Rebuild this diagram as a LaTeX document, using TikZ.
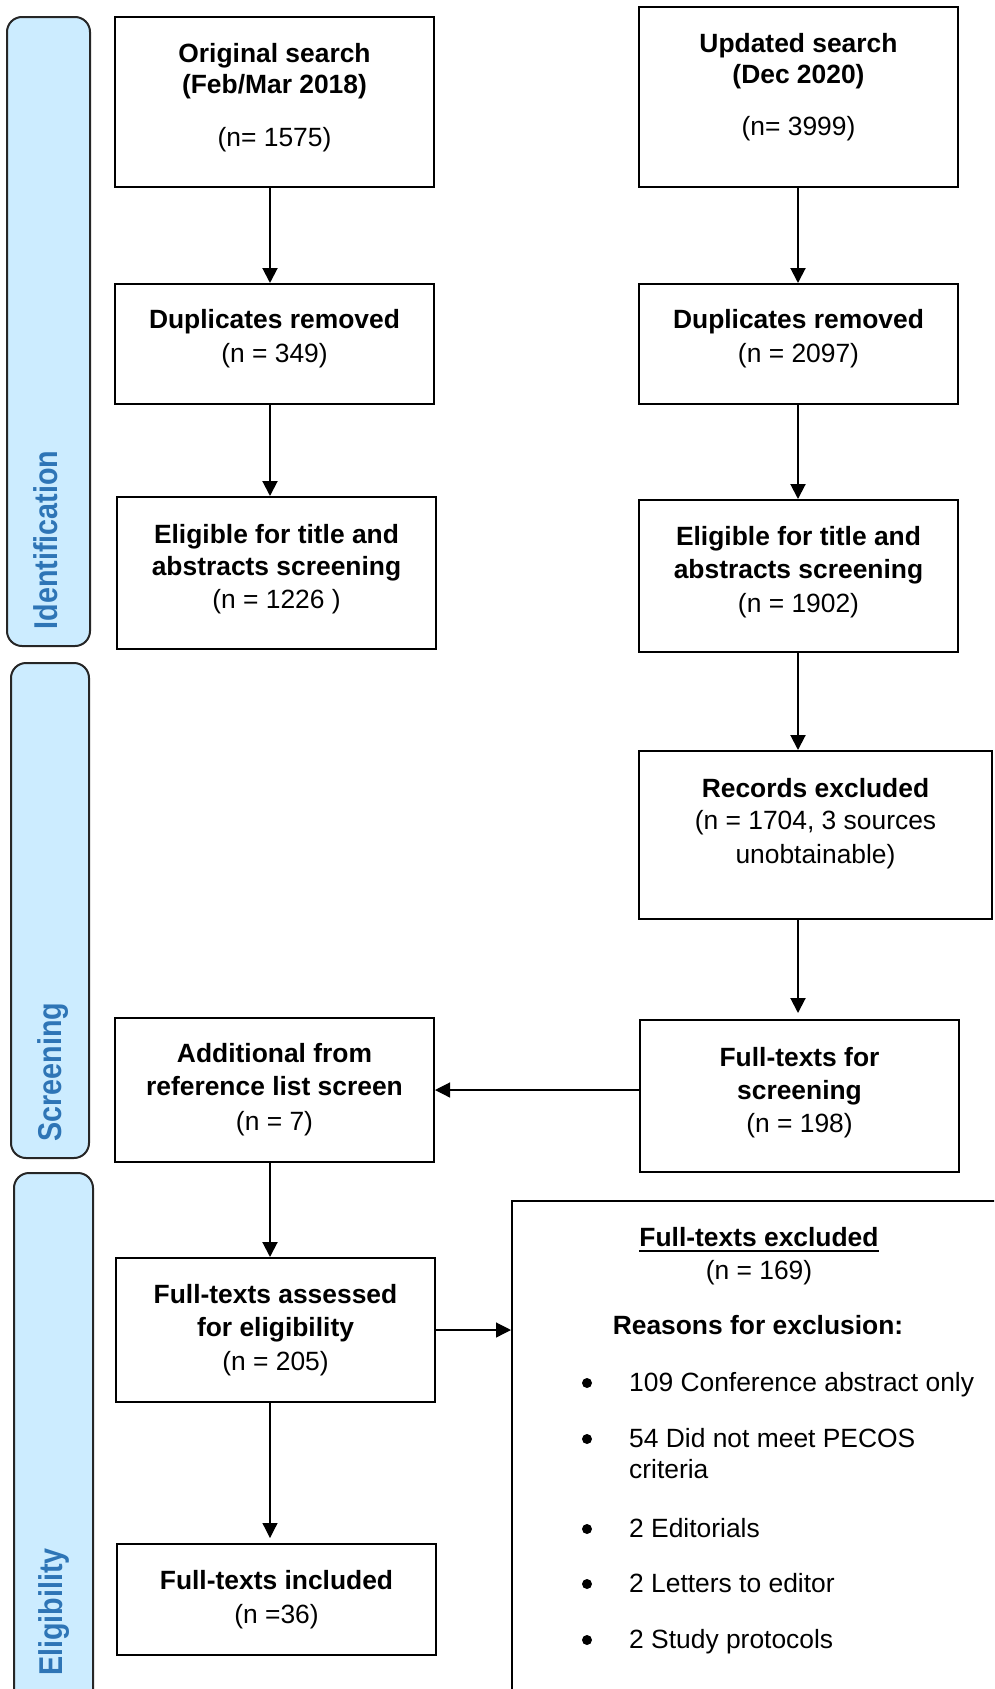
\documentclass[tikz,border=0pt]{standalone}
\usepackage{fontspec}
\setmainfont{Liberation Sans}
\usepackage{graphicx}
\usetikzlibrary{arrows.meta}
\definecolor{barfill}{RGB}{204,236,255}
\definecolor{barblue}{RGB}{46,117,182}
\tikzset{
  box/.style={draw=black, line width=2pt, fill=white, rectangle, inner sep=0pt},
  phasebar/.style={draw=black!85, line width=2pt, fill=barfill, rounded corners=15pt, rectangle, inner sep=0pt},
  txt/.style={inner sep=0pt, anchor=base, font=\fontsize{26.4pt}{33pt}\selectfont},
  btxt/.style={inner sep=0pt, anchor=base, font=\fontsize{26.4pt}{33pt}\selectfont\bfseries},
  itemtxt/.style={inner sep=0pt, anchor=base west, font=\fontsize{26.4pt}{33pt}\selectfont},
  bulletdot/.style={circle, fill=black, minimum size=10pt, inner sep=0pt},
  phase/.style={inner sep=0pt, anchor=base, rotate=90, text=barblue, font=\fontsize{33pt}{36pt}\selectfont\bfseries},
  arr/.style={line width=2pt, -{Triangle[length=15pt,width=15pt]}},
  thinarr/.style={line width=1.2pt, -{Triangle[length=15pt,width=15pt]}},
}
\newcommand\bx[6]{\node[#1, minimum width={#5-#3}, minimum height={#6-#4}] (#2) at ({(#3+#5)/2},{(#4+#6)/2}) {};}
\begin{document}
\begin{tikzpicture}[x=1pt,y=-1pt]
\useasboundingbox (0,0) rectangle (994,1689);
\clip (0,0) rectangle (994,1689);

% phase bars
\bx{phasebar}{pid}{7}{17}{90}{646}
\bx{phasebar}{psc}{11}{663}{89}{1158}
\bx{phasebar}{pel}{14}{1173}{93}{1730}
\node[phase] (lid) at (57,540) {\scalebox{0.87}[1]{Identification}};
\node[phase] (lsc) at (61,1072) {\scalebox{0.87}[1]{Screening}};
\node[phase] (lel) at (62,1612) {\scalebox{0.87}[1]{Eligibility}};

% boxes
\bx{box}{o1}{115}{17}{434}{187}
\bx{box}{u1}{639}{7}{958}{187}
\bx{box}{o2}{115}{284}{434}{404}
\bx{box}{u2}{639}{284}{958}{404}
\bx{box}{o3}{117}{497}{436}{649}
\bx{box}{u3}{639}{500}{958}{652}
\bx{box}{u4}{639}{751}{992}{919}
\bx{box}{u5}{640}{1020}{959}{1172}
\bx{box}{a1}{115}{1018}{434}{1162}
\bx{box}{e1}{116}{1258}{435}{1402}
\bx{box}{e2}{117}{1544}{436}{1655}
\bx{box}{ex}{512}{1201}{1000}{1730}

% connector x positions
\coordinate (lx) at (270,0);
\coordinate (rx) at (798,0);

% connectors
\draw[arr] (o1.south -| lx) -- (o2.north -| lx);
\draw[arr] (o2.south -| lx) -- (o3.north -| lx);
\draw[arr] (u1.south -| rx) -- (u2.north -| rx);
\draw[arr] (u2.south -| rx) -- (u3.north -| rx);
\draw[arr] (u3.south -| rx) -- (u4.north -| rx);
\draw[arr] (u4.south -| rx) -- ([yshift=6pt]u5.north -| rx);
\draw[thinarr] (u5.west |- a1.east) -- (a1.east);
\draw[arr] (a1.south -| lx) -- (e1.north -| lx);
\draw[thinarr] (e1.south -| lx) -- ([yshift=5pt]e2.north -| lx);
\draw[thinarr] (e1.east) -- (e1.east -| ex.west);

% texts
\node[btxt] (o1a) at (274.5,62) {Original search};
\node[btxt] (o1b) at (274.5,93) {(Feb/Mar 2018)};
\node[txt]  (o1c) at (274.5,146) {(n= 1575)};

\node[btxt] (u1a) at (798.5,52) {Updated search};
\node[btxt] (u1b) at (798.5,83) {(Dec 2020)};
\node[txt]  (u1c) at (798.5,135) {(n= 3999)};

\node[btxt] (o2a) at (274.5,328) {Duplicates removed};
\node[txt]  (o2b) at (274.5,362) {(n = 349)};

\node[btxt] (u2a) at (798.5,328) {Duplicates removed};
\node[txt]  (u2b) at (798.5,362) {(n = 2097)};

\node[btxt] (o3a) at (276.5,543) {Eligible for title and};
\node[btxt] (o3b) at (276.5,575) {abstracts screening};
\node[txt]  (o3c) at (276.5,608) {(n = 1226 )};

\node[btxt] (u3a) at (798.5,545) {Eligible for title and};
\node[btxt] (u3b) at (798.5,578) {abstracts screening};
\node[txt]  (u3c) at (798.5,612) {(n = 1902)};

\node[btxt] (u4a) at (815.5,797) {Records excluded};
\node[txt]  (u4b) at (815.5,829) {(n = 1704, 3 sources};
\node[txt]  (u4c) at (815.5,863) {unobtainable)};

\node[btxt] (u5a) at (799.5,1066) {Full-texts for};
\node[btxt] (u5b) at (799.5,1099) {screening};
\node[txt]  (u5c) at (799.5,1132) {(n = 198)};

\node[btxt] (a1a) at (274.5,1062) {Additional from};
\node[btxt] (a1b) at (274.5,1095) {reference list screen};
\node[txt]  (a1c) at (274.5,1130) {(n = 7)};

\node[btxt] (e1a) at (275.5,1303) {Full-texts assessed};
\node[btxt] (e1b) at (275.5,1336) {for eligibility};
\node[txt]  (e1c) at (275.5,1370) {(n = 205)};

\node[btxt] (e2a) at (276.5,1589) {Full-texts included};
\node[txt]  (e2b) at (276.5,1623) {(n =36)};

\node[btxt] (exa) at (759,1246) {Full-texts excluded};
\draw[line width=2pt] ([yshift=-4.5pt]exa.base west) -- ([yshift=-4.5pt]exa.base east);
\node[txt]  (exb) at (759,1279) {(n = 169)};
\node[btxt] (exc) at (758,1334) {Reasons for exclusion:};

\node[bulletdot] (bu1) at (587,1383) {};
\node[itemtxt] (it1) at (629,1391) {109 Conference abstract only};
\node[bulletdot] (bu2) at (587,1439) {};
\node[itemtxt] (it2) at (629,1447) {54 Did not meet PECOS};
\node[itemtxt] (it2b) at (629,1478) {criteria};
\node[bulletdot] (bu3) at (587,1529) {};
\node[itemtxt] (it3) at (629,1537) {2 Editorials};
\node[bulletdot] (bu4) at (587,1584) {};
\node[itemtxt] (it4) at (629,1592) {2 Letters to editor};
\node[bulletdot] (bu5) at (587,1640) {};
\node[itemtxt] (it5) at (629,1648) {2 Study protocols};
\end{tikzpicture}
\end{document}
